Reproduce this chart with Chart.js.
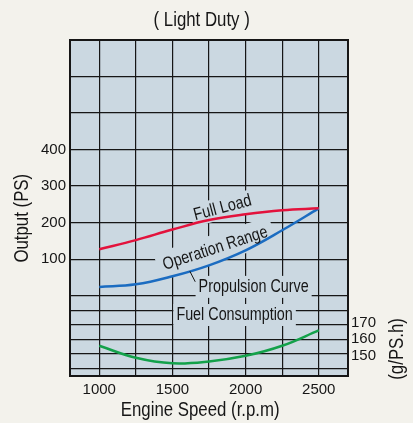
<!DOCTYPE html>
<html>
<head>
<meta charset="utf-8">
<script src="https://cdn.jsdelivr.net/npm/chart.js@4/dist/chart.umd.min.js"></script>
<style>
  html, body { margin: 0; padding: 0; background: #f3f2ec; }
  #wrap { width: 413px; height: 423px; }
</style>
</head>
<body>
<div id="wrap"><canvas id="myChart"></canvas></div>
<script>
  // values
  const speeds = [1000, 1250, 1500, 1750, 2000, 2250, 2500]
  const full_load = [127, 152, 181, 207, 223, 234, 239]
  const propulsion = [24, 31, 53, 83, 124, 179, 239]
  const fuel = [155.9, 148.6, 145.3, 146.4, 149.8, 155.9, 165.2]

  const speed_grid = [1000, 1250, 1500, 1750, 2000, 2250, 2500]
  const speed_labels = [1000, 1500, 2000, 2500]
  const output_grid = [-200, -160, -120, -80, -40, 0, 100, 200, 300, 400, 500, 600, 700]
  const output_labels = [100, 200, 300, 400]
  const fuel_labels = [150, 160, 170]

  const sans = "'Liberation Sans', Arial, sans-serif"
  const squeeze = 0.82   // the original lettering is a narrow face
  const ink = '#161616'
  const plot_bg = '#cbd8e1'

  // text put on the plot, placed in data units (rpm, PS)
  const notes = [
    {text: 'Full Load', x: 1843, y: 240, angle: -15, pad: 3},
    {text: 'Operation Range', x: 1793, y: 129, angle: -18, pad: 6},
    {text: 'Propulsion Curve', x: 2055, y: 24, angle: 0, pad: 3},
    {text: 'Fuel Consumption', x: 1925, y: -53, angle: 0, pad: 3},
  ]

  function points(ys){
    return speeds.map((s, i) => ({x: s, y: ys[i]}))
  }

  function draw_text(ctx, text, x, y, angle, size){
    ctx.save()
    ctx.translate(x, y)
    ctx.rotate(angle * Math.PI / 180)
    ctx.scale(squeeze, 1)
    ctx.font = `${size}px ${sans}`
    ctx.fillStyle = ink
    ctx.textAlign = 'center'
    ctx.textBaseline = 'middle'
    ctx.fillText(text, 0, 0)
    ctx.restore()
  }

  const decor = {
    id: 'decor',
    beforeDraw(chart){
      const {ctx, chartArea: a} = chart
      ctx.save()
      ctx.fillStyle = plot_bg
      ctx.fillRect(a.left, a.top, a.right - a.left, a.bottom - a.top)
      ctx.restore()
    },
    beforeDatasetsDraw(chart){
      const {ctx, chartArea: a, scales} = chart
      ctx.save()
      ctx.font = `17.5px ${sans}`
      notes.forEach(n => {
        const w = ctx.measureText(n.text).width * squeeze
        ctx.save()
        ctx.translate(scales.x.getPixelForValue(n.x), scales.y.getPixelForValue(n.y))
        ctx.rotate(n.angle * Math.PI / 180)
        ctx.fillStyle = plot_bg
        ctx.fillRect(-w / 2 - n.pad, -8 - n.pad, w + 2 * n.pad, 16 + 2 * n.pad)
        ctx.restore()
      })
      ctx.strokeStyle = ink
      ctx.lineWidth = 2
      ctx.strokeRect(a.left, a.top, a.right - a.left, a.bottom - a.top)
      ctx.restore()
    },
    afterDatasetsDraw(chart){
      const {ctx, chartArea: a, scales} = chart
      notes.forEach(n => {
        draw_text(ctx, n.text, scales.x.getPixelForValue(n.x), scales.y.getPixelForValue(n.y), n.angle, 17.5)
      })
      // leader from the propulsion curve to its label
      ctx.save()
      ctx.strokeStyle = ink
      ctx.lineWidth = 1
      ctx.beginPath()
      ctx.moveTo(scales.x.getPixelForValue(1619), scales.y.getPixelForValue(67))
      ctx.lineTo(scales.x.getPixelForValue(1656), scales.y.getPixelForValue(38))
      ctx.stroke()
      ctx.restore()

      draw_text(ctx, '( Light Duty )', scales.x.getPixelForValue(1700), a.top - 20, 0, 20.5)
      draw_text(ctx, 'Output (PS)', 22, scales.y.getPixelForValue(212), -90, 20.5)
      draw_text(ctx, '(g/PS.h)', 397, scales.y2.getPixelForValue(154), -90, 20.5)
      draw_text(ctx, 'Engine Speed (r.p.m)', scales.x.getPixelForValue(1690), 410, 0, 20.5)
    }
  }

  const tick_font = {size: 15, family: sans}

  const config = {
    type: 'line',
    data: {
      datasets: [
        {label: 'Full Load', data: points(full_load), borderColor: '#e3123c', yAxisID: 'y'},
        {label: 'Propulsion Curve', data: points(propulsion), borderColor: '#1b6cc1', yAxisID: 'y'},
        {label: 'Fuel Consumption', data: points(fuel), borderColor: '#13a14a', yAxisID: 'y2'},
      ]
    },
    options: {
      responsive: true,
      maintainAspectRatio: false,
      animation: false,
      layout: {padding: {top: 40}},
      elements: {
        line: {borderWidth: 2.5, tension: 0.4, fill: false},
        point: {radius: 0}
      },
      plugins: {
        legend: {display: false},
        tooltip: {enabled: false},
        title: {display: false}
      },
      scales: {
        x: {
          type: 'linear',
          min: 800,
          max: 2700,
          afterBuildTicks: axis => { axis.ticks = speed_grid.map(v => ({value: v})) },
          afterFit: s => { s.height = 47 },
          ticks: {
            autoSkip: false,
            maxRotation: 0,
            padding: 5,
            color: ink,
            font: tick_font,
            callback: v => speed_labels.includes(v) ? String(v) : ''
          },
          grid: {color: ink, lineWidth: 1.2, drawTicks: false},
          border: {display: false}
        },
        y: {
          position: 'left',
          min: -220,
          max: 700,
          afterBuildTicks: axis => { axis.ticks = output_grid.map(v => ({value: v})) },
          afterFit: s => { s.width = 70 },
          ticks: {
            autoSkip: false,
            padding: 4,
            color: ink,
            font: tick_font,
            callback: v => output_labels.includes(v) ? String(v) : ''
          },
          grid: {color: ink, lineWidth: 1.2, drawTicks: false},
          border: {display: false}
        },
        y2: {
          position: 'right',
          min: 137.6,
          max: 341,
          afterBuildTicks: axis => { axis.ticks = fuel_labels.map(v => ({value: v})) },
          afterFit: s => { s.width = 65 },
          ticks: {
            autoSkip: false,
            padding: 3,
            color: ink,
            font: tick_font
          },
          grid: {display: false, drawTicks: false},
          border: {display: false}
        }
      }
    },
    plugins: [decor]
  }

  const myChart = new Chart(document.getElementById('myChart'), config)
</script>
</body>
</html>
